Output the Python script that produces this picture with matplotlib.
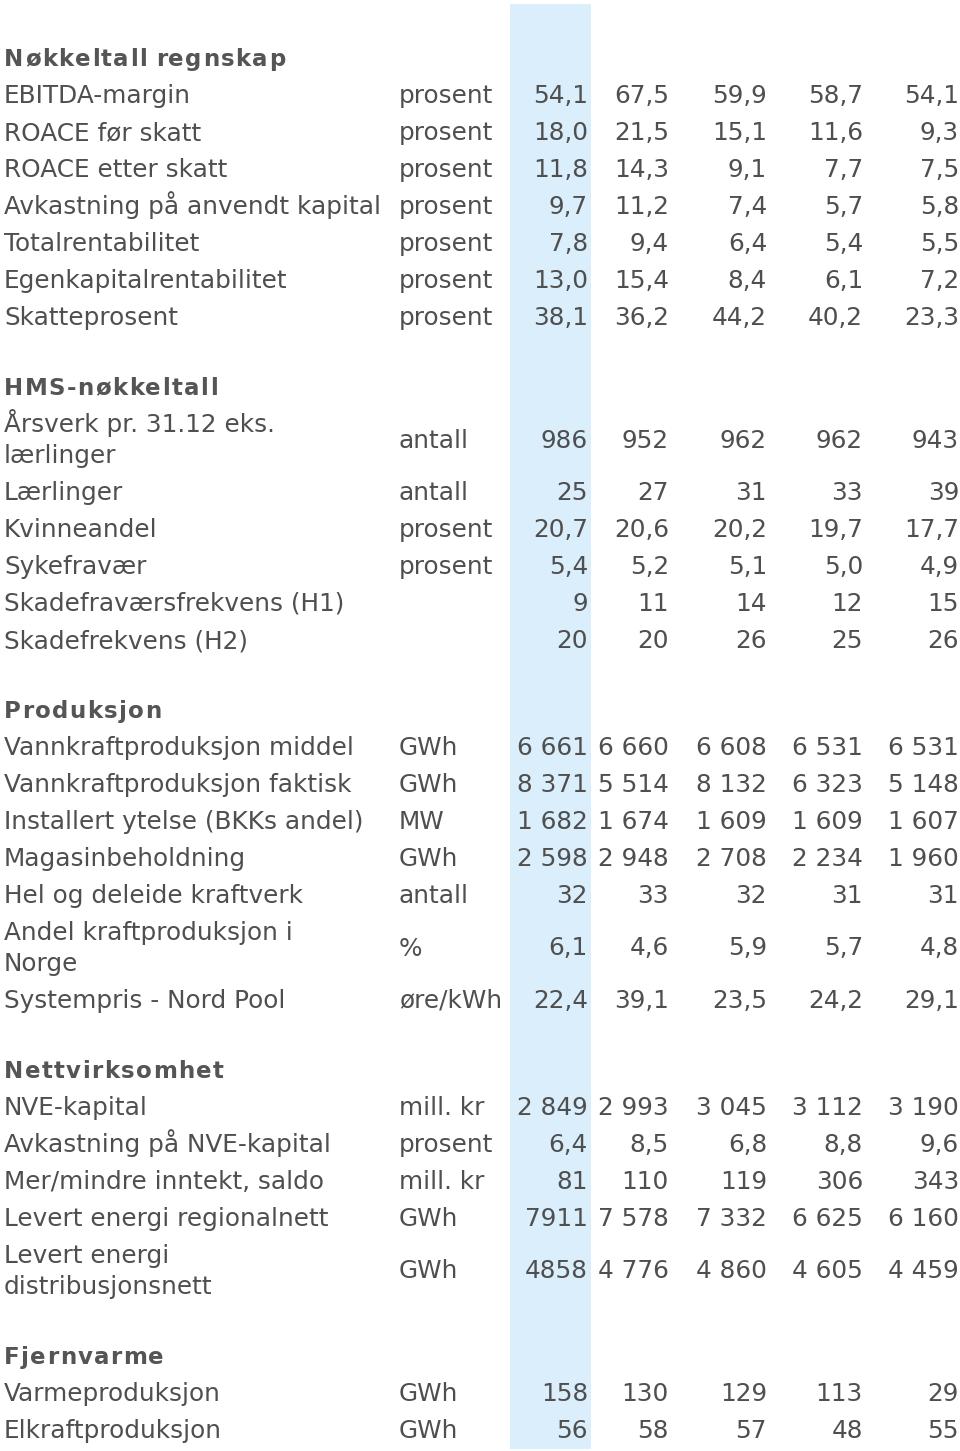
import matplotlib
matplotlib.use('Agg')
import matplotlib.pyplot as plt
from matplotlib.patches import Rectangle

# Nøkkeltall regnskap
regnskap_labels = ["EBITDA-margin", "ROACE før skatt", "ROACE etter skatt",
                   "Avkastning på anvendt kapital", "Totalrentabilitet",
                   "Egenkapitalrentabilitet", "Skatteprosent"]
regnskap_units = ["prosent"] * 7
regnskap_values = [["54,1", "67,5", "59,9", "58,7", "54,1"],
                   ["18,0", "21,5", "15,1", "11,6", "9,3"],
                   ["11,8", "14,3", "9,1", "7,7", "7,5"],
                   ["9,7", "11,2", "7,4", "5,7", "5,8"],
                   ["7,8", "9,4", "6,4", "5,4", "5,5"],
                   ["13,0", "15,4", "8,4", "6,1", "7,2"],
                   ["38,1", "36,2", "44,2", "40,2", "23,3"]]

# HMS-nøkkeltall
hms_labels = ["Årsverk pr. 31.12 eks.\nlærlinger", "Lærlinger", "Kvinneandel",
              "Sykefravær", "Skadefraværsfrekvens (H1)", "Skadefrekvens (H2)"]
hms_units = ["antall", "antall", "prosent", "prosent", "", ""]
hms_values = [["986", "952", "962", "962", "943"],
              ["25", "27", "31", "33", "39"],
              ["20,7", "20,6", "20,2", "19,7", "17,7"],
              ["5,4", "5,2", "5,1", "5,0", "4,9"],
              ["9", "11", "14", "12", "15"],
              ["20", "20", "26", "25", "26"]]

# Produksjon
prod_labels = ["Vannkraftproduksjon middel", "Vannkraftproduksjon faktisk",
               "Installert ytelse (BKKs andel)", "Magasinbeholdning",
               "Hel og deleide kraftverk", "Andel kraftproduksjon i\nNorge",
               "Systempris - Nord Pool"]
prod_units = ["GWh", "GWh", "MW", "GWh", "antall", "%", "øre/kWh"]
prod_values = [["6 661", "6 660", "6 608", "6 531", "6 531"],
               ["8 371", "5 514", "8 132", "6 323", "5 148"],
               ["1 682", "1 674", "1 609", "1 609", "1 607"],
               ["2 598", "2 948", "2 708", "2 234", "1 960"],
               ["32", "33", "32", "31", "31"],
               ["6,1", "4,6", "5,9", "5,7", "4,8"],
               ["22,4", "39,1", "23,5", "24,2", "29,1"]]

# Nettvirksomhet
nett_labels = ["NVE-kapital", "Avkastning på NVE-kapital", "Mer/mindre inntekt, saldo",
               "Levert energi regionalnett", "Levert energi\ndistribusjonsnett"]
nett_units = ["mill. kr", "prosent", "mill. kr", "GWh", "GWh"]
nett_values = [["2 849", "2 993", "3 045", "3 112", "3 190"],
               ["6,4", "8,5", "6,8", "8,8", "9,6"],
               ["81", "110", "119", "306", "343"],
               ["7911", "7 578", "7 332", "6 625", "6 160"],
               ["4858", "4 776", "4 860", "4 605", "4 459"]]

# Fjernvarme
fjern_labels = ["Varmeproduksjon", "Elkraftproduksjon"]
fjern_units = ["GWh", "GWh"]
fjern_values = [["158", "130", "129", "113", "29"],
                ["56", "58", "57", "48", "55"]]

sections = [
    ("Nøkkeltall regnskap", regnskap_labels, regnskap_units, regnskap_values),
    ("HMS-nøkkeltall", hms_labels, hms_units, hms_values),
    ("Produksjon", prod_labels, prod_units, prod_values),
    ("Nettvirksomhet", nett_labels, nett_units, nett_values),
    ("Fjernvarme", fjern_labels, fjern_units, fjern_values),
]

W, H = 960, 1451
fig = plt.figure(figsize=(W / 100, H / 100), dpi=100)
ax = fig.add_axes([0, 0, 1, 1])
ax.set_xlim(0, W)
ax.set_ylim(H, 0)
ax.axis('off')

color = '#4f4f4f'
fs = 17.8
row_h = 37
dbl_h = 68
gap = 33
col_right = [588, 669, 767, 863, 959]
x_label = 4
x_unit = 399

# uthevet første kolonne
ax.add_patch(Rectangle((510, 4), 81, 1445, facecolor='#dbeefc', edgecolor='none', zorder=0))

renderer = fig.canvas.get_renderer()


def spaced_text(x, y, s, spacing=1.4):
    # fet overskrift med sperret tekst, tegnet tegn for tegn
    for ch in s:
        t = ax.text(x, y, ch, fontsize=16.5, fontweight='bold', color='#555555',
                    va='baseline', ha='left')
        bb = t.get_window_extent(renderer=renderer)
        x += bb.width + spacing if ch != ' ' else 6 + spacing


y = 57 - row_h / 2
for si, (title, labels, units, values) in enumerate(sections):
    if si > 0:
        y += gap
    yc = y + row_h / 2
    spaced_text(x_label, yc + 9, title)
    y += row_h
    for lab, unit, vals in zip(labels, units, values):
        h = dbl_h if '\n' in lab else row_h
        yc = y + h / 2
        if '\n' in lab:
            l1, l2 = lab.split('\n')
            ax.text(x_label, yc - 15.5 + 9, l1, fontsize=fs, color=color, va='baseline')
            ax.text(x_label, yc + 15.5 + 9, l2, fontsize=fs, color=color, va='baseline')
        else:
            ax.text(x_label, yc + 9, lab, fontsize=fs, color=color, va='baseline')
        ax.text(x_unit, yc + 9, unit, fontsize=fs, color=color, va='baseline')
        for xr, v in zip(col_right, vals):
            ax.text(xr, yc + 9, v, fontsize=fs, color=color, va='baseline', ha='right')
        y += h

fig.savefig('out.png', dpi=100)
